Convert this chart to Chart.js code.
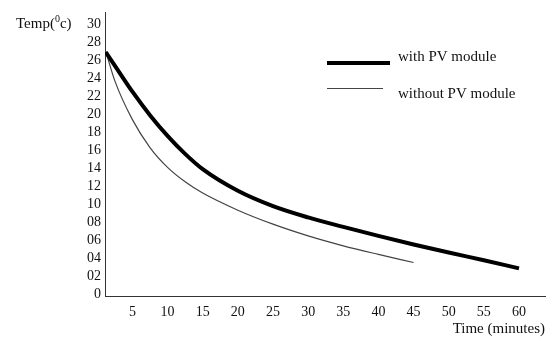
<!DOCTYPE html>
<html>
<head>
<meta charset="utf-8">
<script src="https://cdn.jsdelivr.net/npm/chart.js@4/dist/chart.umd.min.js"></script>
<style>
  html, body { margin: 0; padding: 0; background: #fff; }
</style>
</head>
<body>
<canvas id="chart" width="553" height="338"></canvas>
<script>
// values
const withPvTime = [1.2, 2.5, 5, 7.5, 10, 12.5, 15, 20, 25, 30, 35, 40, 45, 50, 55, 60];
const withPvTemp = [26.9, 25.4, 22.5, 19.9, 17.6, 15.6, 13.9, 11.5, 9.8, 8.55, 7.5, 6.5, 5.55, 4.65, 3.8, 2.9];

const withoutPvTime = [1.2, 2.5, 5, 7.5, 10, 12.5, 15, 20, 25, 30, 35, 40, 45];
const withoutPvTemp = [27.0, 23.7, 19.4, 16.3, 14.1, 12.5, 11.25, 9.35, 7.8, 6.5, 5.4, 4.45, 3.55];

const xTickValues = [5, 10, 15, 20, 25, 30, 35, 40, 45, 50, 55, 60];
const yTickValues = [0, 2, 4, 6, 8, 10, 12, 14, 16, 18, 20, 22, 24, 26, 28, 30];
const yTickLabels = ['0', '02', '04', '06', '08', '10', '12', '14', '16', '18', '20', '22', '24', '26', '28', '30'];

const seriesNames = ['with PV module', 'without PV module'];

const FONT = "'Liberation Serif', 'Times New Roman', serif";

function toPoints(xs, ys) {
  return xs.map((x, i) => ({ x: x, y: ys[i] }));
}

// draws the "Temp(0c)" label and the legend
const extras = {
  id: 'extras',
  afterDraw(chart) {
    const ctx = chart.ctx;
    const y30 = chart.scales.y.getPixelForValue(30);
    ctx.save();
    ctx.fillStyle = '#111';
    ctx.textBaseline = 'middle';
    ctx.font = '15px ' + FONT;
    let x = 16;
    ctx.fillText('Temp(', x, y30);
    x += ctx.measureText('Temp(').width;
    ctx.font = '10px ' + FONT;
    ctx.fillText('0', x, y30 - 5);
    x += ctx.measureText('0').width;
    ctx.font = '15px ' + FONT;
    ctx.fillText('c)', x, y30);

    // legend
    const ds = chart.data.datasets;
    ctx.lineCap = 'butt';
    ctx.strokeStyle = ds[0].borderColor;
    ctx.lineWidth = ds[0].borderWidth;
    ctx.beginPath();
    ctx.moveTo(327, 63);
    ctx.lineTo(390, 63);
    ctx.stroke();
    ctx.strokeStyle = ds[1].borderColor;
    ctx.lineWidth = ds[1].borderWidth;
    ctx.beginPath();
    ctx.moveTo(327, 88.5);
    ctx.lineTo(383, 88.5);
    ctx.stroke();
    ctx.fillStyle = '#111';
    ctx.font = '15px ' + FONT;
    ctx.fillText(seriesNames[0], 398, 57);
    ctx.fillText(seriesNames[1], 398, 94);
    ctx.restore();
  }
};

new Chart(document.getElementById('chart'), {
  type: 'line',
  data: {
    datasets: [
      {
        label: seriesNames[0],
        data: toPoints(withPvTime, withPvTemp),
        borderColor: '#000',
        borderWidth: 4,
        pointRadius: 0,
        cubicInterpolationMode: 'monotone',
        fill: false
      },
      {
        label: seriesNames[1],
        data: toPoints(withoutPvTime, withoutPvTemp),
        borderColor: '#444',
        borderWidth: 1.2,
        pointRadius: 0,
        cubicInterpolationMode: 'monotone',
        fill: false
      }
    ]
  },
  options: {
    responsive: false,
    devicePixelRatio: 1,
    animation: false,
    layout: { padding: { top: 11, right: 8, left: 0, bottom: 0 } },
    plugins: {
      legend: { display: false },
      tooltip: { enabled: false }
    },
    scales: {
      x: {
        type: 'linear',
        min: 1.1,
        max: 63.7,
        grid: { display: false, drawTicks: false },
        border: { color: '#333', width: 1 },
        afterBuildTicks: scale => { scale.ticks = xTickValues.map(v => ({ value: v })); },
        afterFit: scale => { scale.height = 42; },
        ticks: {
          color: '#111',
          font: { family: FONT, size: 14 },
          padding: 8,
          maxRotation: 0,
          autoSkip: false
        },
        title: {
          display: true,
          text: 'Time (minutes)',
          align: 'end',
          color: '#111',
          font: { family: FONT, size: 15 },
          padding: { top: 0, bottom: 0 }
        }
      },
      y: {
        min: -0.17,
        max: 31.3,
        grid: { display: false, drawTicks: false },
        border: { color: '#333', width: 1 },
        afterBuildTicks: scale => { scale.ticks = yTickValues.map(v => ({ value: v })); },
        afterFit: scale => { scale.width = 105; },
        ticks: {
          color: '#111',
          font: { family: FONT, size: 14 },
          padding: 4,
          autoSkip: false,
          callback: v => yTickLabels[yTickValues.indexOf(v)]
        }
      }
    }
  },
  plugins: [extras]
});
</script>
</body>
</html>
